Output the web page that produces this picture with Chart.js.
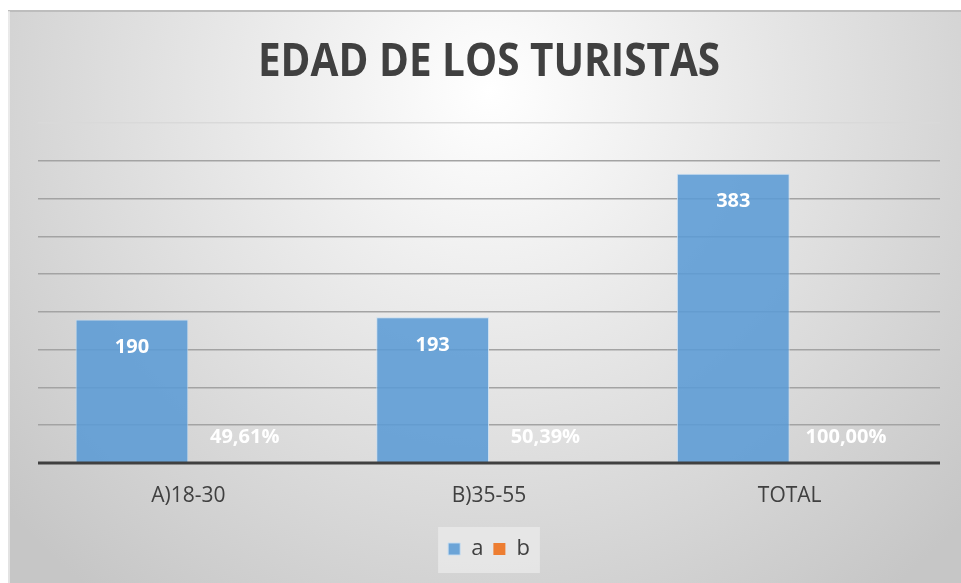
<!DOCTYPE html>
<html>
  <head>
    <meta charset="utf-8">
    <script src="https://cdn.jsdelivr.net/npm/chart.js@4.4.0/dist/chart.umd.min.js"></script>
    <style>
      html, body { margin: 0; padding: 0; background: #ffffff; }
      #wrap { width: 961px; height: 583px; }
    </style>
  </head>
  <body>
    <div id="wrap"><canvas id="edadChart" width="961" height="583"></canvas></div>
    <script>
      const categories = ['A)18-30', 'B)35-55', 'TOTAL'];
      const countValues = [190, 193, 383];
      const shareValues = [0.4961, 0.5039, 1.0];
      const seriesNames = ['a', 'b'];
      const chartTitle = 'EDAD DE LOS TURISTAS';

      const sans = '"Open Sans", sans-serif';

      const backdrop = {
        id: 'backdrop',
        beforeDraw(chart) {
          const ctx = chart.ctx;
          ctx.save();
          ctx.fillStyle = '#ffffff';
          ctx.fillRect(0, 0, chart.width, chart.height);
          const g = ctx.createRadialGradient(490, 90, 0, 490, 90, 640);
          g.addColorStop(0, '#ffffff');
          g.addColorStop(1, '#c6c6c6');
          ctx.fillStyle = g;
          ctx.fillRect(8, 11, chart.width - 8, chart.height - 11);
          ctx.fillStyle = '#bdbdbd';
          ctx.fillRect(8, 10, chart.width - 8, 2);
          ctx.fillStyle = 'rgba(255,255,255,0.5)';
          ctx.fillRect(8, 11, 2, chart.height - 11);

          // legend backing box
          const boxes = chart.legend && chart.legend.legendHitBoxes;
          if (boxes && boxes.length) {
            let l = Infinity, r = -Infinity, t = Infinity, b = -Infinity;
            boxes.forEach(h => {
              l = Math.min(l, h.left); r = Math.max(r, h.left + h.width);
              t = Math.min(t, h.top); b = Math.max(b, h.top + h.height);
            });
            ctx.fillStyle = 'rgba(235,235,235,0.75)';
            ctx.fillRect(l - 10, t - 11, r - l + 20, b - t + 24);
          }
          ctx.restore();
        }
      };

      const overlay = {
        id: 'overlay',
        afterDatasetsDraw(chart) {
          const ctx = chart.ctx;
          const area = chart.chartArea;
          ctx.save();
          // axis line on top of the tiny b bars
          ctx.fillStyle = '#404040';
          ctx.fillRect(area.left, area.bottom - 1.5, area.right - area.left, 3);

          ctx.fillStyle = '#ffffff';
          ctx.textAlign = 'center';
          ctx.textBaseline = 'middle';
          ctx.font = 'bold 20px ' + sans;
          chart.getDatasetMeta(0).data.forEach((el, i) => {
            ctx.fillText(String(countValues[i]), el.x, el.y + 28);
          });
          chart.getDatasetMeta(1).data.forEach((el, i) => {
            const txt = (shareValues[i] * 100).toFixed(2).replace('.', ',') + '%';
            ctx.fillText(txt, el.x, el.base - 25);
          });

          // condensed title
          ctx.fillStyle = '#404040';
          ctx.font = 'bold 46px ' + sans;
          ctx.translate(489, 63);
          ctx.scale(0.88, 1);
          ctx.fillText(chartTitle, 0, 0);
          ctx.restore();
        }
      };

      const ctx = document.getElementById('edadChart');
      const chart = new Chart(ctx, {
        type: 'bar',
        data: {
          labels: categories,
          datasets: [{
            label: seriesNames[0],
            data: countValues,
            backgroundColor: 'rgba(91,155,213,0.88)',
            borderColor: 'rgba(200,222,242,0.9)',
            borderWidth: 1,
            categoryPercentage: 0.75,
            barPercentage: 1.0
          }, {
            label: seriesNames[1],
            data: shareValues,
            backgroundColor: '#ED7D31',
            borderColor: 'rgba(248,203,173,0.9)',
            borderWidth: 0,
            categoryPercentage: 0.75,
            barPercentage: 1.0
          }]
        },
        options: {
          responsive: false,
          animation: false,
          layout: { padding: { left: 38, right: 21, top: 0, bottom: 13 } },
          plugins: {
            title: {
              display: true,
              text: chartTitle,
              color: 'rgba(0,0,0,0)',
              font: { family: sans, size: 46, weight: 'bold' },
              padding: { top: 34, bottom: 34 }
            },
            legend: {
              position: 'bottom',
              labels: {
                color: '#404040',
                font: { family: sans, size: 22 },
                boxWidth: 12,
                boxHeight: 12,
                padding: 10
              }
            },
            tooltip: { enabled: false }
          },
          scales: {
            x: {
              grid: { display: false },
              border: { display: false },
              ticks: { color: '#404040', font: { family: sans, size: 21 }, padding: 12 },
              afterFit(scale) { scale.height = 65; }
            },
            y: {
              min: 0,
              max: 450,
              ticks: { display: false, stepSize: 50 },
              border: { display: false },
              grid: {
                drawTicks: false,
                lineWidth: 1.5,
                color: c => c.tick && c.tick.value === 450 ? '#d9d9d9' : '#a3a3a3'
              }
            }
          }
        },
        plugins: [backdrop, overlay]
      });
    </script>
  </body>
</html>
